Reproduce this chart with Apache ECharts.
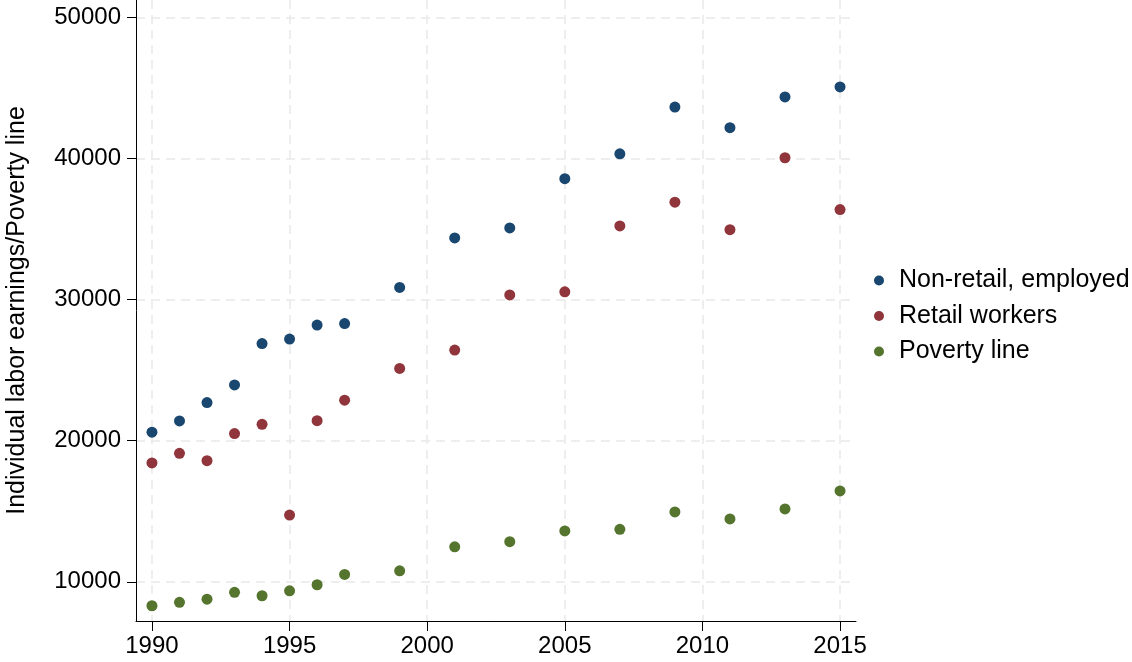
<!DOCTYPE html>
<html>
<head>
<meta charset="utf-8">
<script src="https://cdn.jsdelivr.net/npm/echarts@6/dist/echarts.min.js"></script>
<style>
  html, body { margin: 0; padding: 0; background: #fff; }
  #chart { width: 1132px; height: 662px; }
</style>
</head>
<body>
<div id="chart"></div>
<script>
// Survey years (annual to 1997, then every other year)
const years = [1990, 1991, 1992, 1993, 1994, 1995, 1996, 1997, 1999, 2001, 2003, 2005, 2007, 2009, 2011, 2013, 2015];

// Individual labor earnings and poverty line, in dollars
const nonRetail = [20600, 21400, 22700, 23950, 26880, 27200, 28190, 28300, 30860, 34370, 35080, 38570, 40330, 43640, 42180, 44360, 45070];
const retail    = [18420, 19100, 18580, 20500, 21160, 14730, 21420, 22870, 25120, 26420, 30330, 30550, 35220, 36900, 34950, 40050, 36380];
const poverty   = [8300, 8540, 8770, 9250, 9010, 9360, 9790, 10520, 10780, 12480, 12840, 13600, 13720, 14950, 14450, 15160, 16440];

const seriesNames = ['Non-retail, employed', 'Retail workers', 'Poverty line'];
const seriesColors = ['#1a476f', '#90353b', '#55752f'];

const xTicks = [1990, 1995, 2000, 2005, 2010, 2015];
const yTicks = [10000, 20000, 30000, 40000, 50000];

const pair = vals => years.map((y, i) => [y, vals[i]]);

const FONT = '"Liberation Sans", Arial, sans-serif';
const FS = 25;
const TICK_FS = 24;
const gridLine = { show: true, lineStyle: { color: '#e9e9e9', width: 1.5, type: [9, 6] } };
const plain = v => String(Math.round(v));

const chart = echarts.init(document.getElementById('chart'), null, { renderer: 'canvas' });
chart.setOption({
  animation: false,
  backgroundColor: '#ffffff',
  textStyle: { fontFamily: FONT },
  grid: { left: 136, top: 0, right: 276, bottom: 41, containLabel: false, outerBoundsMode: 'none' },
  legend: {
    orient: 'vertical',
    left: 869,
    top: 263,
    icon: 'circle',
    itemWidth: 10,
    itemHeight: 10,
    itemGap: 10.5,
    textStyle: { fontSize: FS, lineHeight: FS, color: '#000', fontFamily: FONT, padding: [0, 0, 0, 10] },
    data: seriesNames
  },
  xAxis: {
    type: 'value',
    min: 1989.42,
    max: 2015.58,
    axisLine: { show: true, onZero: false, lineStyle: { color: '#000', width: 1 } },
    axisTick: { show: true, length: 10, lineStyle: { color: '#000', width: 1 }, customValues: xTicks },
    axisLabel: { customValues: xTicks, formatter: plain, fontSize: TICK_FS, color: '#000', margin: 13, fontFamily: FONT },
    splitLine: gridLine
  },
  yAxis: {
    type: 'value',
    min: 7220,
    max: 51230,
    name: 'Individual labor earnings/Poverty line',
    nameLocation: 'middle',
    nameGap: 106,
    nameRotate: 90,
    nameTextStyle: { fontSize: FS, color: '#000', fontFamily: FONT },
    axisLine: { show: true, onZero: false, lineStyle: { color: '#000', width: 1 } },
    axisTick: { show: true, length: 9, lineStyle: { color: '#000', width: 1 }, customValues: yTicks },
    axisLabel: { customValues: yTicks, formatter: plain, fontSize: TICK_FS, color: '#000', margin: 15, fontFamily: FONT },
    splitLine: gridLine
  },
  series: [nonRetail, retail, poverty].map((vals, i) => ({
    name: seriesNames[i],
    type: 'scatter',
    symbol: 'circle',
    symbolSize: 11,
    itemStyle: { color: seriesColors[i], opacity: 1 },
    data: pair(vals)
  }))
});
</script>
</body>
</html>
